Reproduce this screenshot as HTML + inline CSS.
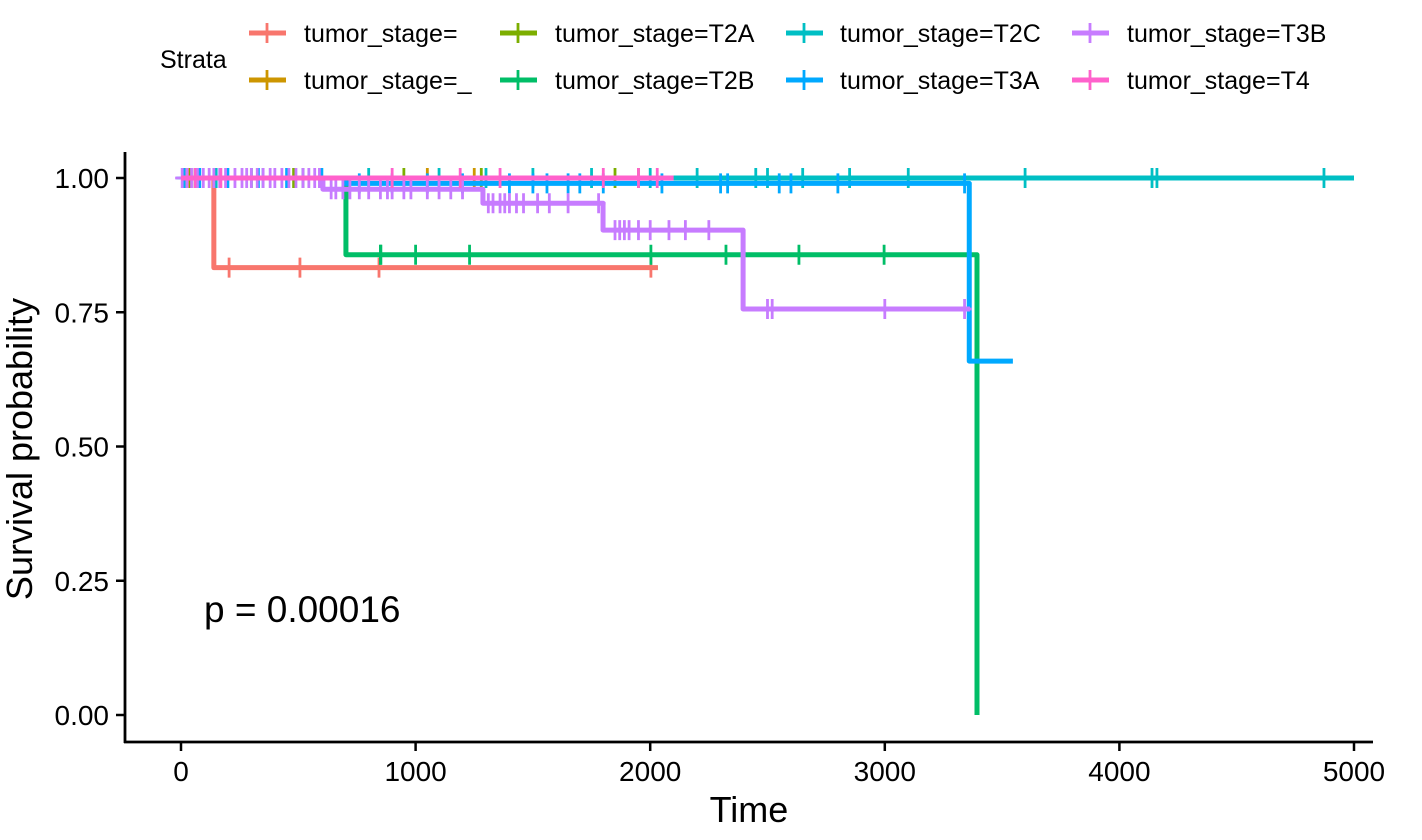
<!DOCTYPE html>
<html><head><meta charset="utf-8"><style>
html,body{margin:0;padding:0;background:#fff}
svg{display:block;font-family:"Liberation Sans",Arial,sans-serif}
</style></head><body>
<svg id="chart" width="1422" height="840">
<g id="legend"></g>
<g id="plot"></g>
<g id="axes"></g>
</svg>
<script>
const seriesNames = ["tumor_stage=","tumor_stage=_","tumor_stage=T2A","tumor_stage=T2B","tumor_stage=T2C","tumor_stage=T3A","tumor_stage=T3B","tumor_stage=T4"];
const seriesColors = ["#F8766D","#CD9600","#7CAE00","#00BE67","#00BFC4","#00A9FF","#C77CFF","#FF61CC"];
// event times and survival after each event
const eventTimes = [[140],[],[],[703,3393],[],[700,3360],[605,1287,1799,2396],[]];
const survValues = [[0.833],[],[],[0.857,0.0],[],[0.99,0.659],[0.979,0.953,0.903,0.756],[]];
const endTimes = [2033,1300,1950,3393,5000,3546,3363,2100];
const censorTimes = [
 [30,205,507,844,2003],
 [1050,1250],
 [40,480,950,1280,1850,1950],
 [60,300,520,850,1000,1230,852,2003,2323,2634,2997],
 [20,150,350,600,800,1100,1300,1500,1750,2000,2200,2450,2500,2650,2850,3100,3598,4139,4160,4872],
 [10,80,200,330,450,600,760,900,1050,1200,1400,1500,1560,1650,1700,1800,2050,2300,2330,2550,2600,2800,3340],
 [5,25,45,70,95,120,140,165,190,230,260,280,300,325,350,380,400,430,460,490,520,545,570,590,640,660,690,720,760,800,850,880,900,950,980,1050,1100,1150,1200,1310,1330,1360,1380,1400,1430,1460,1520,1570,1650,1780,1850,1870,1890,1910,1950,2000,2080,2150,2250,2500,2520,3000,3340],
 [60,170,900,1190,1360,1800,1950,2030]
];
const xTicks = [0,1000,2000,3000,4000,5000];
const yTicks = [0,0.25,0.5,0.75,1.0];
const yTickLabels = ["0.00","0.25","0.50","0.75","1.00"];

const NS="http://www.w3.org/2000/svg";
const X0=181, X1=1354, Y0=715, Y1=178;
function xs(t){return X0+(X1-X0)*t/5000;}
function ys(v){return Y0+(Y1-Y0)*v;}
function mk(tag,attrs,parent,text){const e=document.createElementNS(NS,tag);for(const k in attrs)e.setAttribute(k,attrs[k]);if(text!==undefined)e.textContent=text;parent.appendChild(e);return e;}
function survAt(i,t){let s=1;for(let j=0;j<eventTimes[i].length;j++){if(eventTimes[i][j]<=t)s=survValues[i][j];}return s;}

const plot=document.getElementById('plot');
for(let i=0;i<seriesNames.length;i++){
  const g=mk('g',{},plot);
  
  
  let d='M'+xs(0)+','+ys(1);
  for(let j=0;j<eventTimes[i].length;j++){d+=' H'+xs(eventTimes[i][j])+' V'+ys(survValues[i][j]);}
  d+=' H'+xs(endTimes[i]);
  const p=mk('path',{d:d,fill:'none',stroke:seriesColors[i],'stroke-width':5,'stroke-linejoin':'round'},g);
  
  
  censorTimes[i].forEach(t=>{
    const cx=xs(t),cy=ys(survAt(i,t));
    const c=mk('path',{d:'M'+(cx-7)+','+cy+' H'+(cx+7)+' M'+cx+','+(cy-10)+' V'+(cy+10),stroke:seriesColors[i],'stroke-width':2.8,fill:'none'},g);
    
    
  });
}
const pt=mk('text',{x:204,y:622,'font-size':37,fill:'#000'},plot,'p = 0.00016');



const axes=document.getElementById('axes');
mk('line',{x1:125,y1:152,x2:125,y2:743,stroke:'#000','stroke-width':2.8},axes);
mk('line',{x1:124,y1:742,x2:1373,y2:742,stroke:'#000','stroke-width':2.8},axes);
xTicks.forEach(t=>{
  mk('line',{x1:xs(t),y1:742,x2:xs(t),y2:751,stroke:'#000','stroke-width':2.5},axes);
  const l=mk('text',{x:xs(t),y:781,'font-size':28,'text-anchor':'middle',fill:'#000'},axes,String(t));
  
  
});
yTicks.forEach((v,k)=>{
  mk('line',{x1:116,y1:ys(v),x2:125,y2:ys(v),stroke:'#000','stroke-width':2.5},axes);
  const l=mk('text',{x:109,y:ys(v)+10,'font-size':28,'text-anchor':'end',fill:'#000'},axes,yTickLabels[k]);
  
  
});
const xt=mk('text',{x:749,y:822,'font-size':36,'text-anchor':'middle',fill:'#000'},axes,'Time');


const yt=mk('text',{x:0,y:0,'font-size':36,'text-anchor':'middle',fill:'#000',transform:'translate(32,449) rotate(-90)'},axes,'Survival probability');



const legend=document.getElementById('legend');
const st=mk('text',{x:160,y:68,'font-size':25,fill:'#000'},legend,'Strata');


const colKeyX=[249,500,786,1072], colTextX=[304,555,840,1127], rowY=[33,80];
for(let i=0;i<seriesNames.length;i++){
  const c=Math.floor(i/2), r=i%2;
  const g=mk('g',{},legend);
  
  
  const kx=colKeyX[c], ky=rowY[r];
  mk('line',{x1:kx,y1:ky,x2:kx+37,y2:ky,stroke:seriesColors[i],'stroke-width':5},g);
  mk('line',{x1:kx+18,y1:ky-10,x2:kx+18,y2:ky+10,stroke:seriesColors[i],'stroke-width':2.8},g);
  mk('text',{x:colTextX[c],y:ky+9,'font-size':25,fill:'#000'},g,seriesNames[i]);
}
</script>
</body></html>
